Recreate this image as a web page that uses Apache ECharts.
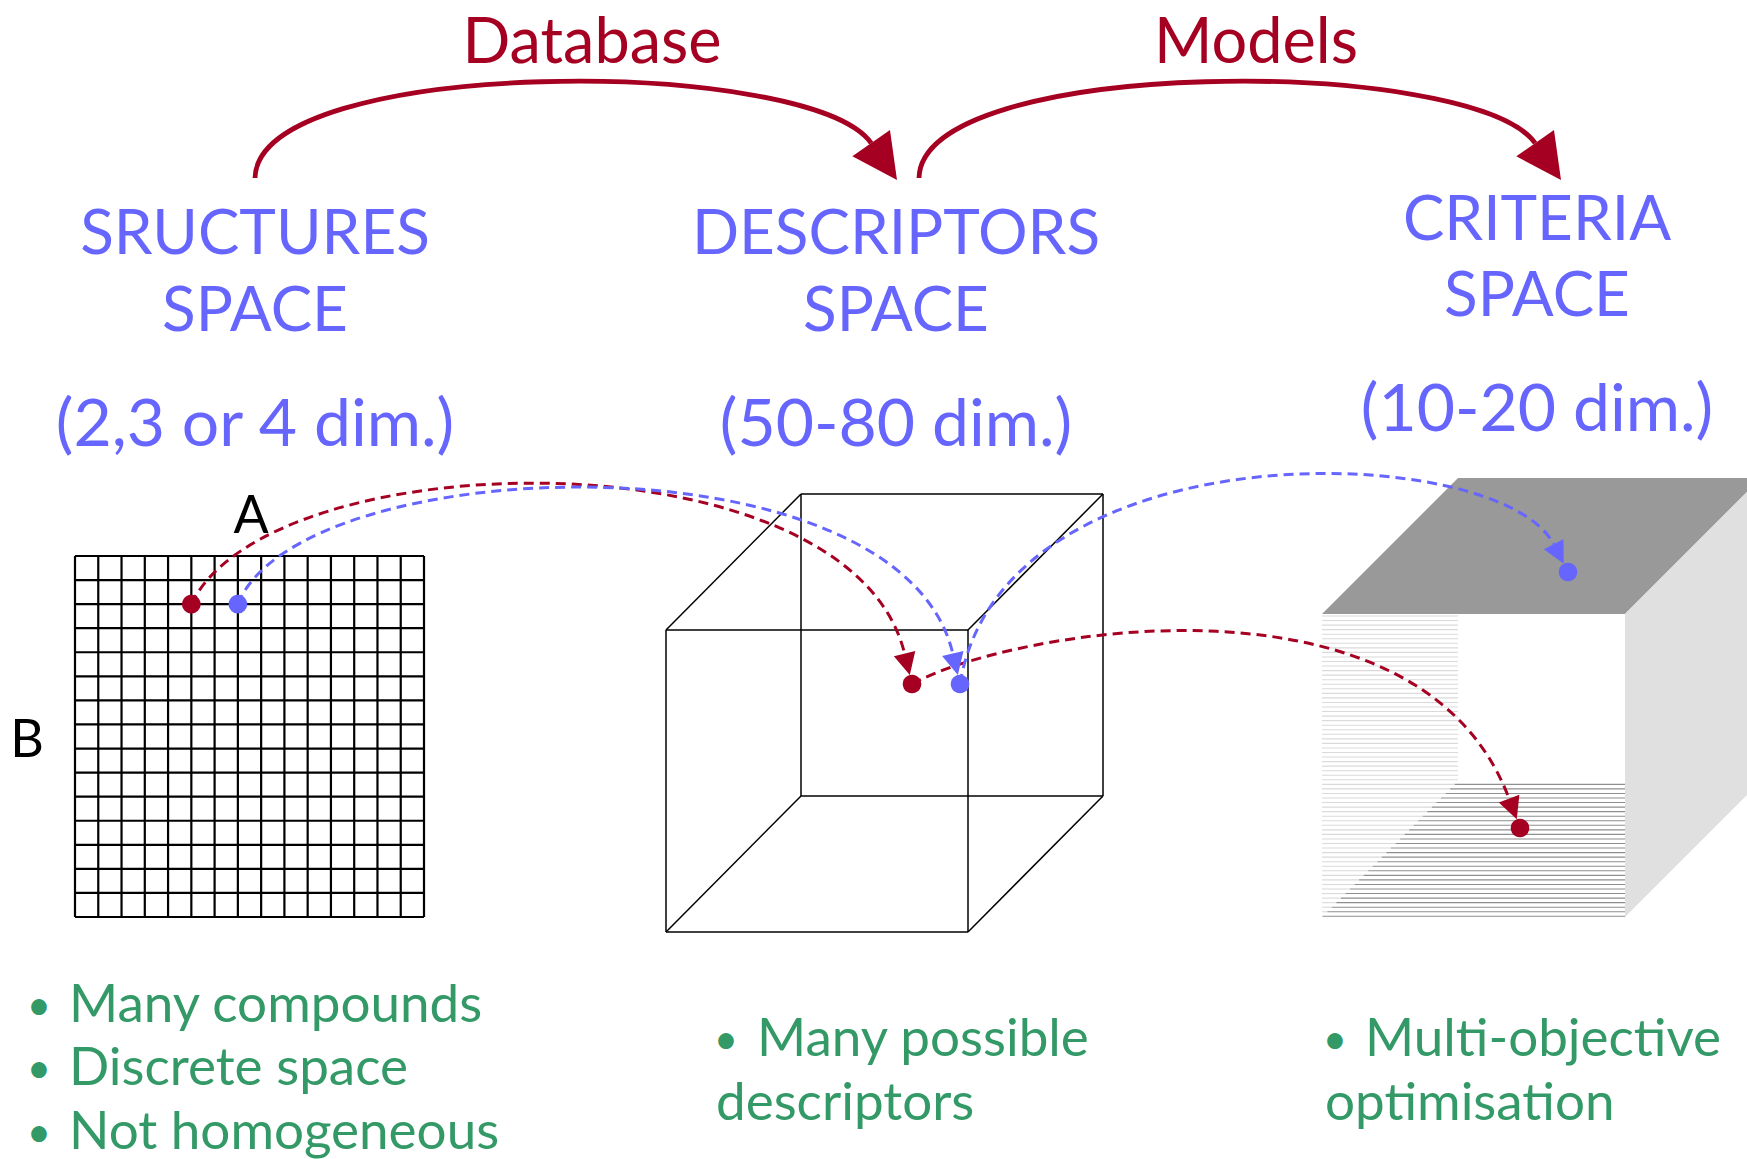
<!DOCTYPE html>
<html><head><meta charset="utf-8">
<script src="https://cdn.jsdelivr.net/npm/echarts@6/dist/echarts.min.js"></script>
<style>html,body{margin:0;padding:0;background:#fff;overflow:hidden}#c{width:1747px;height:1159px}</style>
</head><body><div id="c"></div>
<script>
// ---------- content / data ----------
const spaceTitles = [['SRUCTURES', 'SPACE'], ['DESCRIPTORS', 'SPACE'], ['CRITERIA', 'SPACE']];
const spaceDims = ['(2,3 or 4 dim.)', '(50-80 dim.)', '(10-20 dim.)'];
const transitions = ['Database', 'Models'];
const axisLetters = ['A', 'B'];
const notes = [
  ['• Many compounds', '• Discrete space', '• Not homogeneous'],
  ['• Many possible', 'descriptors'],
  ['• Multi-objective', 'optimisation']
];
const latticeCells = 15;                       // structure space: 15 x 15 lattice
const compounds = ['red', 'blue'];
const structureNodes = [[5, 2], [7, 2]];        // lattice (column,row) of each compound
const descriptorPoints = [[912, 684], [960, 684]];
const criteriaPoints = [[1520, 828], [1568, 572]];

// ---------- styles & layout ----------
const RED = '#A50021', BLUE = '#6666FF', GREEN = '#339966';
const compoundColor = {red: RED, blue: BLUE};
const FONT = 'Lato, "Open Sans", sans-serif';
const L = {
  lattice: {x0: 75, y0: 556, x1: 424, y1: 917},
  cubeD: {x: 666, y: 630, s: 302, dx: 135, dy: -136},
  cubeC: {x: 1322, y: 614, s: 303, dx: 136, dy: -136},
  topArrows: [{from: [255, 178], to: [897, 180]}, {from: [919, 178], to: [1561, 180]}],
  topBend: [3, -123, -87, -124],
  hopBends: [
    [[78, -164, -62, -254], [100, -55, -100, -268]],
    [[61, -154, -60, -254], [43, -260, -68, -132]]
  ],
  dotR: 9.3
};

const nodeXY = (c, r) => [
  L.lattice.x0 + (L.lattice.x1 - L.lattice.x0) * c / latticeCells,
  L.lattice.y0 + (L.lattice.y1 - L.lattice.y0) * r / latticeCells
];
const structurePoints = structureNodes.map(([c, r]) => nodeXY(c, r));
const spaces = [structurePoints, descriptorPoints, criteriaPoints];

// ---------- texts ----------
const texts = [];
const titleX = [255, 896, 1537];
const titleBase = [[254, 331, 446], [254, 331, 446], [240, 316, 431]];
spaceTitles.forEach((lines, i) => {
  lines.forEach((t, j) => texts.push({t, x: titleX[i], b: titleBase[i][j], fs: 62, c: BLUE, a: 'center'}));
  texts.push({t: spaceDims[i], x: titleX[i], b: titleBase[i][2], fs: 66, c: BLUE, a: 'center'});
});
const transX = [592, 1256];
transitions.forEach((t, i) => texts.push({t, x: transX[i], b: 63, fs: 63, c: RED, a: 'center'}));
texts.push({t: axisLetters[0], x: 251, b: 533, fs: 52, c: '#000', a: 'center'});
texts.push({t: axisLetters[1], x: 27, b: 757, fs: 52, c: '#000', a: 'center'});
const noteCols = [
  {bx: 39, tx: 69, cx: 69, b0: 1022, dy: 63.5},
  {bx: 726, tx: 757, cx: 716, b0: 1056, dy: 64},
  {bx: 1335, tx: 1365, cx: 1325, b0: 1056, dy: 64}
];
notes.forEach((lines, i) => {
  const col = noteCols[i];
  lines.forEach((line, j) => {
    const b = col.b0 + j * col.dy;
    if (line.startsWith('• ')) {
      texts.push({t: '•', x: col.bx, b: b - 2, fs: 42, c: GREEN, a: 'center'});
      texts.push({t: line.slice(2), x: col.tx, b, fs: 53, c: GREEN, a: 'left'});
    } else {
      texts.push({t: line, x: col.cx, b, fs: 53, c: GREEN, a: 'left'});
    }
  });
});

// ---------- drawing helpers ----------
function curveArrow(api, p0, p3, bend, r, headLen, headW, color, lw, dash) {
  const P0 = api.coord(p0), T0 = api.coord(p3);
  const P1 = api.coord([p0[0] + bend[0], p0[1] + bend[1]]);
  const P2 = api.coord([p3[0] + bend[2], p3[1] + bend[3]]);
  let dx = T0[0] - P2[0], dy = T0[1] - P2[1];
  const len = Math.hypot(dx, dy); dx /= len; dy /= len;
  const tip = [T0[0] - r * dx, T0[1] - r * dy];
  const base = [tip[0] - headLen * dx, tip[1] - headLen * dy];
  const nx = -dy, ny = dx, hw = headW / 2;
  return [
    {type: 'bezierCurve', shape: {x1: P0[0], y1: P0[1], cpx1: P1[0], cpy1: P1[1], cpx2: P2[0], cpy2: P2[1], x2: base[0], y2: base[1]},
      style: {stroke: color, lineWidth: lw, lineDash: dash, fill: null}},
    {type: 'polygon', shape: {points: [tip, [base[0] + nx * hw, base[1] + ny * hw], [base[0] - nx * hw, base[1] - ny * hw]]},
      style: {fill: color}}
  ];
}
const seg = (api, a, b, stroke, lw) => {
  const p = api.coord(a), q = api.coord(b);
  return {type: 'line', shape: {x1: p[0], y1: p[1], x2: q[0], y2: q[1]}, style: {stroke, lineWidth: lw}};
};
const poly = (api, pts, fill) => ({type: 'polygon', shape: {points: pts.map(p => api.coord(p))}, style: {fill}});

// ---------- series ----------
const hops = [];
compounds.forEach((name, ci) => {
  for (let h = 0; h < 2; h++) hops.push({ci, h, from: spaces[h][ci], to: spaces[h + 1][ci]});
});
const dots = [];
compounds.forEach((name, ci) => spaces.forEach(sp => dots.push({value: sp[ci], itemStyle: {color: compoundColor[name], opacity: 1}})));

const option = {
  animation: false,
  backgroundColor: '#fff',
  grid: {left: 0, right: 0, top: 0, bottom: 0},
  xAxis: {type: 'value', min: 0, max: 1747, show: false},
  yAxis: {type: 'value', min: 0, max: 1159, inverse: true, show: false},
  series: [
    { // criteria space box
      type: 'custom', silent: true, data: [[0]],
      renderItem: (params, api) => {
        const c = L.cubeC, F = [[c.x, c.y], [c.x + c.s, c.y], [c.x + c.s, c.y + c.s], [c.x, c.y + c.s]];
        const B = F.map(p => [p[0] + c.dx, p[1] + c.dy]);
        const ch = [poly(api, [F[0], B[0], B[1], F[1]], '#999999'), poly(api, [F[1], B[1], B[2], F[2]], '#E0E0E0')];
        for (let y = c.y + 2; y <= c.y + c.s; y += 4.55) {
          if (y <= B[3][1]) ch.push(seg(api, [F[0][0], y], [B[0][0], y], '#DADADA', 1.1));
          else {
            const xd = B[3][0] - (y - B[3][1]) * (c.dx / -c.dy);
            ch.push(seg(api, [F[0][0], y], [xd, y], '#DADADA', 1.1));
            ch.push(seg(api, [xd, y], [F[1][0], y], '#8E8E8E', 1.1));
          }
        }
        return {type: 'group', children: ch};
      }
    },
    { // descriptors space wire cube
      type: 'custom', silent: true, data: [[0]],
      renderItem: (params, api) => {
        const c = L.cubeD, F = [[c.x, c.y], [c.x + c.s, c.y], [c.x + c.s, c.y + c.s], [c.x, c.y + c.s]];
        const B = F.map(p => [p[0] + c.dx, p[1] + c.dy]);
        const ch = [];
        for (let i = 0; i < 4; i++) {
          ch.push(seg(api, F[i], F[(i + 1) % 4], '#000', 1.5));
          ch.push(seg(api, B[i], B[(i + 1) % 4], '#000', 1.5));
          ch.push(seg(api, F[i], B[i], '#000', 1.5));
        }
        return {type: 'group', children: ch};
      }
    },
    { // structures space lattice
      type: 'custom', silent: true, data: [[latticeCells]],
      renderItem: (params, api) => {
        const n = api.value(0), g = L.lattice, ch = [];
        for (let i = 0; i <= n; i++) {
          const x = g.x0 + (g.x1 - g.x0) * i / n, y = g.y0 + (g.y1 - g.y0) * i / n;
          ch.push(seg(api, [x, g.y0], [x, g.y1], '#000', 2.2));
          ch.push(seg(api, [g.x0, y], [g.x1, y], '#000', 2.2));
        }
        return {type: 'group', children: ch};
      }
    },
    { // Database / Models arrows
      type: 'custom', silent: true, data: transitions.map((t, i) => [i]),
      renderItem: (params, api) => {
        const a = L.topArrows[api.value(0)];
        return {type: 'group', children: curveArrow(api, a.from, a.to, L.topBend, 0, 45, 46, RED, 4.8, null)};
      }
    },
    { // dashed mapping links
      type: 'custom', silent: true, data: hops.map((h, i) => [i]),
      renderItem: (params, api) => {
        const h = hops[api.value(0)];
        const color = compoundColor[compounds[h.ci]];
        return {type: 'group', children: curveArrow(api, h.from, h.to, L.hopBends[h.ci][h.h], L.dotR, 22, 22, color, 3, [10, 6])};
      }
    },
    { // compounds in each space
      type: 'scatter', silent: true, symbol: 'circle', symbolSize: 2 * L.dotR, data: dots
    },
    { // texts
      type: 'custom', silent: true, data: texts.map((t, i) => [i]),
      renderItem: (params, api) => {
        const t = texts[api.value(0)];
        const p = api.coord([t.x, t.b - 0.387 * t.fs]);
        return {type: 'text', x: p[0], y: p[1],
          style: {text: t.t, fill: t.c, font: `${t.fs}px ${FONT}`, align: t.a, verticalAlign: 'middle'}};
      }
    }
  ]
};
const chart = echarts.init(document.getElementById('c'), null, {renderer: 'svg', width: 1747, height: 1159});
chart.setOption(option);
</script>
</body></html>
